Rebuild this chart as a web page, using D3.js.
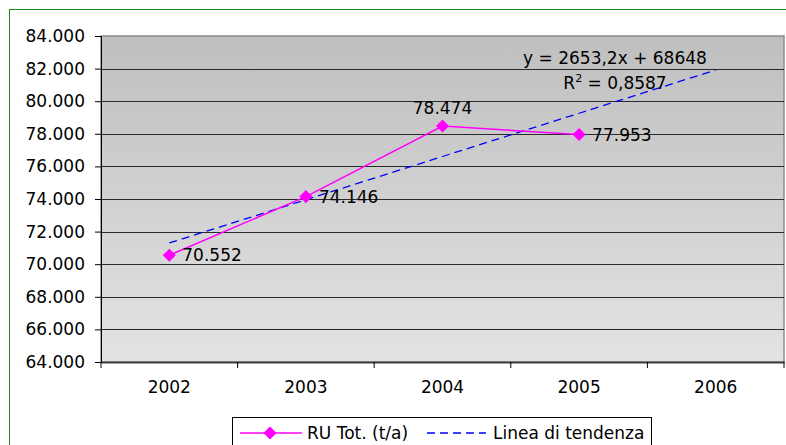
<!DOCTYPE html>
<html><head><meta charset="utf-8">
<script src="https://cdn.jsdelivr.net/npm/d3@7"></script>
<style>body{margin:0;background:#fff}svg{display:block}text{font-family:"DejaVu Sans",Verdana,sans-serif;fill:#000}</style>
</head><body>
<svg id="c" width="786" height="445"></svg>
<script>
const years = ["2002","2003","2004","2005","2006"];
const dataYears = ["2002","2003","2004","2005"];
const values = [70552, 74146, 78474, 77953];
const yTicks = [64000,66000,68000,70000,72000,74000,76000,78000,80000,82000,84000];
const trendSlope = 2653.2, trendIntercept = 68648;
const trendText = ["y = 2653,2x + 68648", "R", "2", " = 0,8587"];
const seriesName = "RU Tot. (t/a)";
const trendName = "Linea di tendenza";

const FS = "17px";
const svg = d3.select("#c");
const L = 101, R = 784, T = 36, B = 362;
const x = d3.scaleBand().domain(years).range([L, R]).padding(0);
const y = d3.scaleLinear().domain([64000, 84000]).range([B, T]);
const fmt = v => d3.format(",")(v).replace(/,/g, ".");

// outer frame
svg.append("rect").attr("x", 9.5).attr("y", 9.5).attr("width", 800).attr("height", 460)
  .attr("fill", "#fff").attr("stroke", "#1a8a1a").attr("stroke-width", 1);

// gradient
const defs = svg.append("defs");
const g = defs.append("linearGradient").attr("id", "bg").attr("x1", 0).attr("y1", 0).attr("x2", 0).attr("y2", 1);
g.append("stop").attr("offset", "0%").attr("stop-color", "#bfbfbf");
g.append("stop").attr("offset", "100%").attr("stop-color", "#e3e3e3");
svg.append("rect").attr("x", L).attr("y", T).attr("width", R - L).attr("height", B - T)
  .attr("fill", "url(#bg)").attr("stroke", "#8c8c8c").attr("stroke-width", 1.5);

// gridlines
svg.append("g").selectAll("line").data(yTicks.slice(1, -1)).join("line")
  .attr("x1", L).attr("x2", R).attr("y1", d => Math.round(y(d)) + 0.5).attr("y2", d => Math.round(y(d)) + 0.5)
  .attr("stroke", "#2a2a2a").attr("stroke-width", 1);

// y axis
const ya = svg.append("g").attr("transform", `translate(${L},0)`)
  .call(d3.axisLeft(y).tickValues(yTicks).tickFormat(fmt).tickSize(6).tickPadding(10));
ya.select(".domain").attr("stroke", "#000");
ya.selectAll(".tick line").attr("stroke", "#000");
ya.selectAll("text").style("font-size", FS).attr("fill", "#000");

// x axis
const xa = svg.append("g").attr("transform", `translate(0,${B})`)
  .call(d3.axisBottom(x).tickSize(0).tickPadding(19));
xa.select(".domain").attr("stroke", "#404040").attr("stroke-width", 2);
xa.selectAll("text").style("font-size", FS).attr("fill", "#000");
const bounds = years.map(d => x(d)).concat([R]);
svg.append("g").selectAll("line").data(bounds).join("line")
  .attr("x1", d => d).attr("x2", d => d).attr("y1", B).attr("y2", B + 6)
  .attr("stroke", "#000").attr("stroke-width", 1);

const cx = d => x(d) + x.bandwidth() / 2;

// trend line
const trendPts = years.map((d, i) => [cx(d), y(trendSlope * (i + 1) + trendIntercept)]);
svg.append("path").attr("d", d3.line()(trendPts)).attr("fill", "none")
  .attr("stroke", "#0000ff").attr("stroke-width", 1.3).attr("stroke-dasharray", "8,5");

// series
const pts = dataYears.map((d, i) => [cx(d), y(values[i])]);
svg.append("path").attr("d", d3.line()(pts)).attr("fill", "none")
  .attr("stroke", "#ff00ff").attr("stroke-width", 1.5);
const diamond = d3.symbol().type(d3.symbolSquare).size(85);
svg.append("g").selectAll("path").data(pts).join("path")
  .attr("transform", d => `translate(${d[0]},${d[1]}) rotate(45)`)
  .attr("d", diamond)
  .attr("fill", "#ff00ff");

// data labels
const lbl = svg.append("g").style("font-size", FS);
values.forEach((v, i) => {
  const [px, py] = pts[i];
  const t = lbl.append("text").text(fmt(v));
  if (i === 2) t.attr("x", px).attr("y", py - 12).attr("text-anchor", "middle");
  else t.attr("x", px + 13).attr("y", py + 6);
});

// equation
svg.append("text").attr("x", 615).attr("y", 64).attr("text-anchor", "middle").style("font-size", FS).text(trendText[0]);
const r2 = svg.append("text").attr("x", 615).attr("y", 89).attr("text-anchor", "middle").style("font-size", FS);
r2.append("tspan").text(trendText[1]);
r2.append("tspan").attr("dy", -7).style("font-size", "11px").text(trendText[2]);
r2.append("tspan").attr("dy", 7).text(trendText[3]);

// legend
svg.append("rect").attr("x", 232.5).attr("y", 417.5).attr("width", 419).attr("height", 40)
  .attr("fill", "#fff").attr("stroke", "#000").attr("stroke-width", 1);
svg.append("line").attr("x1", 240).attr("x2", 302).attr("y1", 433).attr("y2", 433).attr("stroke", "#ff00ff").attr("stroke-width", 1.5);
svg.append("path").attr("transform", "translate(270,433) rotate(45)").attr("d", diamond).attr("fill", "#ff00ff");
svg.append("text").attr("x", 307).attr("y", 439).style("font-size", FS).text(seriesName);
svg.append("line").attr("x1", 427).attr("x2", 486).attr("y1", 433).attr("y2", 433).attr("stroke", "#0000ff").attr("stroke-width", 1.3).attr("stroke-dasharray", "8,5");
svg.append("text").attr("x", 493).attr("y", 439).style("font-size", FS).text(trendName);
</script>
</body></html>
